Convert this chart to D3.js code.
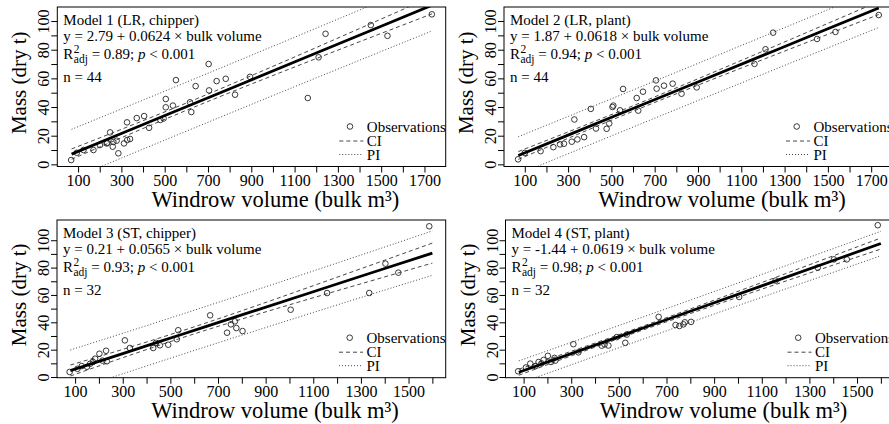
<!DOCTYPE html>
<html><head><meta charset="utf-8">
<script src="https://cdn.jsdelivr.net/npm/d3@7"></script>
<style>
body{margin:0;background:#fff;overflow:hidden}
svg{display:block}
text{font-family:"Liberation Serif","Times New Roman",serif;fill:#000}
</style>
</head><body><div id="chart"></div>
<script>
// ---------- data ----------
const modelTitles = ["Model 1 (LR, chipper)", "Model 2 (LR, plant)", "Model 3 (ST, chipper)", "Model 4 (ST, plant)"];
const equations = ["y = 2.79 + 0.0624 \u00d7 bulk volume", "y = 1.87 + 0.0618 \u00d7 bulk volume",
                   "y = 0.21 + 0.0565 \u00d7 bulk volume", "y = -1.44 + 0.0619 \u00d7 bulk volume"];
const r2Values = ["0.89", "0.94", "0.93", "0.98"];
const nValues = [44, 44, 32, 32];

const xTicksLR = [100,200,300,400,500,600,700,800,900,1000,1100,1200,1300,1400,1500,1600,1700];
const xLabelsLR = [100,300,500,700,900,1100,1300,1500,1700];
const xTicksST = [100,200,300,400,500,600,700,800,900,1000,1100,1200,1300,1400,1500,1600];
const xLabelsST = [100,300,500,700,900,1100,1300,1500];
const yTicks = [0,10,20,30,40,50,60,70,80,90,100];
const yLabels = [0,20,40,60,80,100];

// observations (bulk m3, dry t)
const model1Obs = [[68,3.0],[94,8.1],[125,10],[171,10],[201,13.5],[232,14.6],[235,15],[248,22.3],[260,12.3],[263,15.6],
  [278,16.5],[286,7.7],[312,14.6],[327,17],[340,17.7],[326,29.3],[371,32.3],[405,33.7],[428,25.5],[480,31],
  [495,32],[505,39.8],[505,45.6],[538,41],[552,58.8],[617,43.3],[623,36.5],[643,54.6],[703,70],[705,51.6],
  [740,58.1],[782,59.7],[825,48.6],[894,61.1],[1161,46.3],[1211,74.7],[1243,91.1],[1452,97.2],[1529,89.7],[1734,104.7]];
const model2Obs = [[69,3.5],[100,8],[173,9.2],[232,12],[263,13.9],[281,14.4],[317,15.8],[343,17.4],[374,19],[329,31.3],
  [405,38.7],[429,25],[478,24.8],[490,28.5],[509,41],[505,40],[540,37.7],[554,52.6],[617,46.3],[624,37.5],
  [646,50.7],[706,58.6],[709,52.8],[743,54.9],[783,56.3],[824,49.3],[894,53.7],[1161,70.1],[1212,80.3],[1247,91.9],
  [1450,87.5],[1535,92.4],[1735,104.2]];
const model3Obs = [[77,3.7],[110,6],[128,8],[150,7.5],[163,9.7],[175,11],[184,13.4],[202,17],[215,12],[230,19.2],
  [233,11.5],[309,26.8],[330,21.2],[428,21.2],[440,25],[456,23.2],[491,23.6],[527,27.6],[533,34.2],[667,45.1],
  [738,32.4],[754,38.5],[771,40.7],[777,35.8],[803,33.6],[1005,49.2],[1158,61.4],[1335,61.4],[1403,82.9],[1457,76.3],[1587,110.2]];
const model4Obs = [[77,4.2],[110,7],[128,9.8],[150,8],[163,11],[175,10],[184,12.5],[202,15.5],[215,11],[230,14],
  [233,12],[309,24],[330,18],[428,22.9],[440,23.8],[456,23],[491,29.2],[527,25],[533,31],[667,44],
  [738,38],[754,37.3],[771,38.5],[777,40],[803,40.3],[1005,58.5],[1158,70.5],[1335,80],[1403,86],[1457,86],[1587,111]];

// fitted line and bands, read at these volumes
const bandXLR = [70, 300, 600, 900, 1200, 1500, 1735];
const bandXST = [80, 300, 550, 800, 1100, 1400, 1600];
const model1Fit = [7.16, 21.51, 40.23, 58.95, 77.67, 96.39, 111.05];
const model1CIu = [10.76, 24.44, 42.78, 61.88, 81.51, 101.40, 117.06];
const model1CIl = [3.56, 18.58, 37.68, 56.02, 73.83, 91.38, 105.04];
const model1PIu = [24.44, 38.66, 57.32, 76.10, 95.00, 114.02, 128.99];
const model1PIl = [-10.12, 4.36, 23.14, 41.80, 60.34, 78.76, 93.11];
const model2Fit = [6.20, 20.41, 38.95, 57.49, 76.03, 94.57, 109.09];
const model2CIu = [8.93, 22.63, 40.88, 59.71, 78.94, 98.37, 113.64];
const model2CIl = [3.47, 18.19, 37.02, 55.27, 73.12, 90.77, 104.54];
const model2PIu = [19.29, 33.40, 51.89, 70.48, 89.16, 107.92, 122.68];
const model2PIl = [-6.89, 7.42, 26.01, 44.50, 62.90, 81.22, 95.50];
const model3Fit = [4.73, 17.16, 31.29, 45.41, 62.36, 79.31, 90.61];
const model3CIu = [8.73, 20.20, 33.85, 48.45, 66.77, 85.42, 97.92];
const model3CIl = [0.73, 14.12, 28.73, 42.37, 57.95, 73.20, 83.30];
const model3PIu = [19.77, 31.97, 46.01, 60.22, 77.52, 95.04, 106.85];
const model3PIl = [-10.31, 2.35, 16.57, 30.60, 47.20, 63.58, 74.37];
const model4Fit = [3.51, 17.13, 32.61, 48.08, 66.65, 85.22, 97.60];
const model4CIu = [5.72, 18.81, 34.02, 49.76, 69.08, 88.59, 101.64];
const model4CIl = [1.30, 15.45, 31.20, 46.40, 64.22, 81.85, 93.56];
const model4PIu = [11.81, 25.30, 40.73, 56.25, 75.01, 93.90, 106.56];
const model4PIl = [-4.79, 8.96, 24.49, 39.91, 58.29, 76.54, 88.64];

const xTitle = "Windrow volume (bulk m\u00b3)";
const yTitle = "Mass (dry t)";
const legendLabels = ["Observations", "CI", "PI"];

// ---------- layout ----------
const W = 889, H = 424;
const panels = [
  {left:57.3, top:7, right:445.7, bottom:166.5, xd:[4,1798], yd:[-1.5,109.8], obs:model1Obs, bx:bandXLR,
   fit:model1Fit, ciu:model1CIu, cil:model1CIl, piu:model1PIu, pil:model1PIl, xt:xTicksLR, xl:xLabelsLR},
  {left:504, top:7, right:892.4, bottom:166.5, xd:[4,1798], yd:[-1.5,109.8], obs:model2Obs, bx:bandXLR,
   fit:model2Fit, ciu:model2CIu, cil:model2CIl, piu:model2PIu, pil:model2PIl, xt:xTicksLR, xl:xLabelsLR},
  {left:57, top:220, right:445.7, bottom:377.7, xd:[24,1656], yd:[-0.5,114.8], obs:model3Obs, bx:bandXST,
   fit:model3Fit, ciu:model3CIu, cil:model3CIl, piu:model3PIu, pil:model3PIl, xt:xTicksST, xl:xLabelsST},
  {left:505.5, top:220, right:894.2, bottom:377.7, xd:[24,1656], yd:[-0.5,114.8], obs:model4Obs, bx:bandXST,
   fit:model4Fit, ciu:model4CIu, cil:model4CIl, piu:model4PIu, pil:model4PIl, xt:xTicksST, xl:xLabelsST}
];

const svg = d3.select("#chart").append("svg").attr("width", W).attr("height", H);
svg.append("rect").attr("width", W).attr("height", H).attr("fill", "#fff");
const defs = svg.append("defs");

panels.forEach((p, i) => {
  const x = d3.scaleLinear().domain(p.xd).range([p.left, p.right]);
  const y = d3.scaleLinear().domain(p.yd).range([p.bottom, p.top]);
  const g = svg.append("g");
  const clipId = "clip" + i;
  defs.append("clipPath").attr("id", clipId).append("rect")
    .attr("x", p.left).attr("y", p.top).attr("width", p.right - p.left).attr("height", p.bottom - p.top);

  // axes
  const xAxis = d3.axisBottom(x).tickValues(p.xt).tickSize(6)
    .tickFormat(d => p.xl.includes(d) ? d : "");
  const gx = g.append("g").attr("transform", `translate(0,${p.bottom})`).call(xAxis);
  gx.attr("font-family", null);
  gx.select(".domain").remove();
  gx.selectAll("line").attr("stroke", "#000").attr("stroke-width", 1);
  gx.selectAll("text").style("font-size", "16px").attr("y", 8.2).attr("dy", "0.71em");

  const yAxis = d3.axisLeft(y).tickValues(yTicks).tickSize(6)
    .tickFormat(d => yLabels.includes(d) ? d : "");
  const gy = g.append("g").attr("transform", `translate(${p.left},0)`).call(yAxis);
  gy.attr("font-family", null);
  gy.select(".domain").remove();
  gy.selectAll("line").attr("stroke", "#000").attr("stroke-width", 1);
  gy.selectAll(".tick text").style("font-size", "16px")
    .attr("x", null).attr("dy", null).attr("text-anchor", "middle")
    .attr("transform", "translate(-8,0) rotate(-90)");

  // box
  g.append("rect").attr("x", p.left).attr("y", p.top).attr("width", p.right - p.left)
    .attr("height", p.bottom - p.top).attr("fill", "none").attr("stroke", "#000").attr("stroke-width", 1);

  const plot = g.append("g").attr("clip-path", `url(#${clipId})`);
  const mk = arr => d3.line().x((d, k) => x(p.bx[k])).y(d => y(d)).curve(d3.curveNatural)(arr);

  plot.append("path").attr("d", mk(p.piu)).attr("fill", "none").attr("stroke", "#333").attr("stroke-width", 0.9).attr("stroke-dasharray", "1,2");
  plot.append("path").attr("d", mk(p.pil)).attr("fill", "none").attr("stroke", "#333").attr("stroke-width", 0.9).attr("stroke-dasharray", "1,2");
  plot.append("path").attr("d", mk(p.ciu)).attr("fill", "none").attr("stroke", "#333").attr("stroke-width", 0.9).attr("stroke-dasharray", "4,3");
  plot.append("path").attr("d", mk(p.cil)).attr("fill", "none").attr("stroke", "#333").attr("stroke-width", 0.9).attr("stroke-dasharray", "4,3");

  plot.selectAll("circle.obs").data(p.obs).enter().append("circle")
    .attr("cx", d => x(d[0])).attr("cy", d => y(d[1])).attr("r", 2.8)
    .attr("fill", "none").attr("stroke", "#222").attr("stroke-width", 0.9);

  plot.append("path").attr("d", mk(p.fit)).attr("fill", "none").attr("stroke", "#000").attr("stroke-width", 2.8);

  // annotation
  const x0 = p.left + 6;
  g.append("text").attr("x", x0).attr("y", p.top + 17.5).style("font-size", "15px").text(modelTitles[i]);
  g.append("text").attr("x", x0).attr("y", p.top + 33.5).style("font-size", "15px").text(equations[i]);
  const yb = p.top + 52;
  const tR = g.append("text").attr("x", x0).attr("y", yb).style("font-size", "15px").text("R");
  const wR = tR.node().getComputedTextLength();
  g.append("text").attr("x", x0 + wR + 0.5).attr("y", yb - 6.5).style("font-size", "11.5px").text("2");
  const tA = g.append("text").attr("x", x0 + wR + 0.5).attr("y", yb + 4).style("font-size", "11.5px").text("adj");
  const wA = tA.node().getComputedTextLength();
  const t = g.append("text").attr("x", x0 + wR + wA + 0.5).attr("y", yb).style("font-size", "15px").style("white-space", "pre");
  t.append("tspan").text(" = " + r2Values[i] + "; ");
  t.append("tspan").style("font-style", "italic").text("p");
  t.append("tspan").text(" < 0.001");
  g.append("text").attr("x", x0).attr("y", p.top + 75).style("font-size", "15px").text("n = " + nValues[i]);

  // legend
  const lx = p.left + 309.5;
  const rows = [p.bottom - 40, p.bottom - 25.5, p.bottom - 12];
  g.append("circle").attr("cx", p.left + 292.7).attr("cy", rows[0]).attr("r", 2.8)
    .attr("fill", "none").attr("stroke", "#222").attr("stroke-width", 0.9);
  g.append("line").attr("x1", p.left + 282).attr("x2", p.left + 306).attr("y1", rows[1]).attr("y2", rows[1])
    .attr("stroke", "#333").attr("stroke-width", 0.9).attr("stroke-dasharray", "4,3");
  g.append("line").attr("x1", p.left + 282).attr("x2", p.left + 306).attr("y1", rows[2]).attr("y2", rows[2])
    .attr("stroke", "#333").attr("stroke-width", 0.9).attr("stroke-dasharray", "1,2");
  legendLabels.forEach((lab, k) => {
    g.append("text").attr("x", lx).attr("y", rows[k]).attr("dy", "0.35em").style("font-size", "15px").text(lab);
  });

  // axis titles
  g.append("text").attr("x", p.left + 218).attr("y", p.bottom + 40.5).attr("text-anchor", "middle")
    .style("font-size", "22.5px").text(xTitle);
  const cy = (p.top + p.bottom) / 2 - 4;
  g.append("text").attr("text-anchor", "middle").style("font-size", "21px")
    .attr("transform", `translate(${p.left - 31},${cy}) rotate(-90)`).text(yTitle);
});
</script>
</body></html>
